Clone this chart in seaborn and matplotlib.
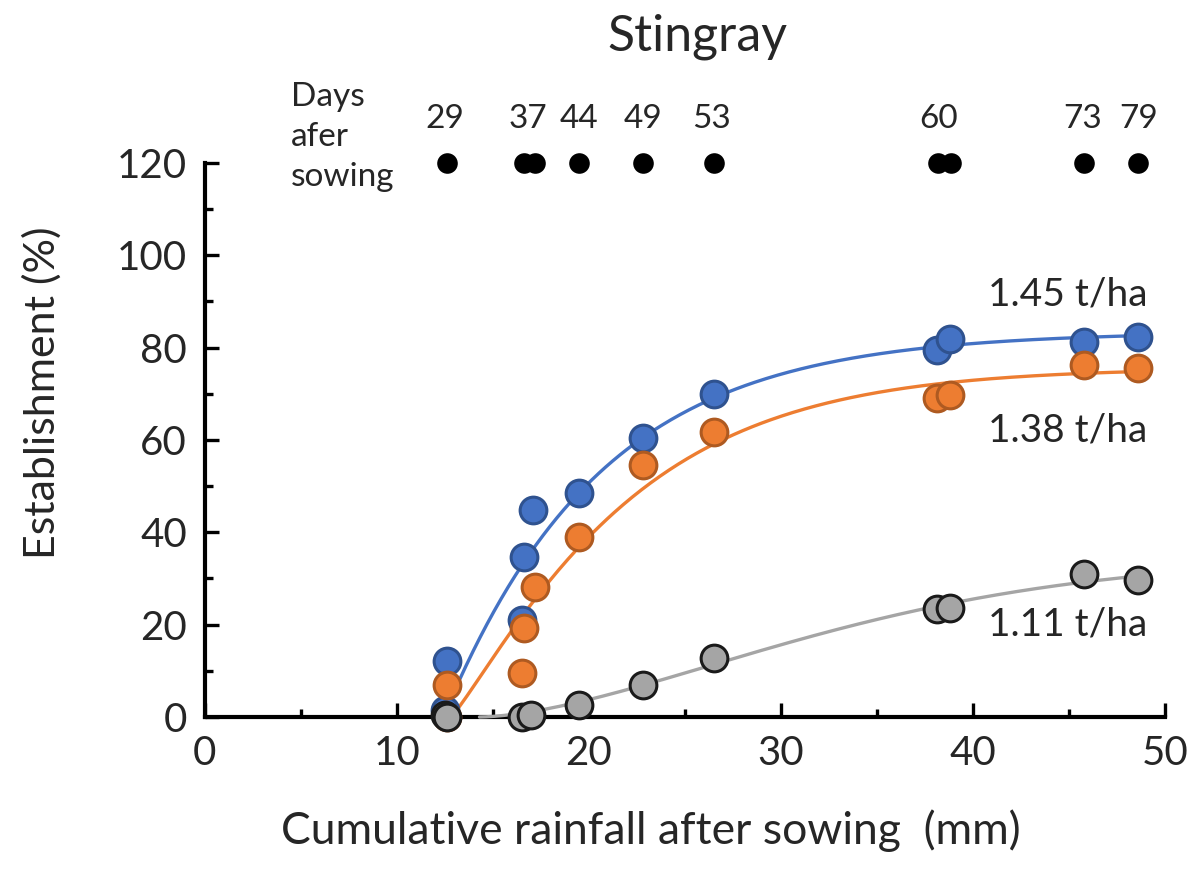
import numpy as np
import pandas as pd
import matplotlib
matplotlib.use("Agg")
import matplotlib.pyplot as plt
import seaborn as sns

# ---------------- data ----------------
blue_x = [12.5, 12.6, 16.5, 16.6, 17.1, 19.5, 22.8, 26.5, 38.1, 38.8, 45.8, 48.6]
blue_y = [1.5, 12.2, 21.0, 34.6, 44.8, 48.5, 60.4, 70.0, 79.5, 81.9, 81.3, 82.4]

orange_x = [12.6, 12.6, 16.5, 16.6, 17.2, 19.5, 22.8, 26.5, 38.1, 38.8, 45.8, 48.6]
orange_y = [0.0, 6.9, 9.5, 19.3, 28.2, 39.0, 54.6, 61.7, 69.1, 69.7, 76.2, 75.6]

gray_x = [12.5, 12.6, 16.5, 17.0, 19.5, 22.8, 26.5, 38.1, 38.8, 45.8, 48.6]
gray_y = [0.5, 0.0, 0.0, 0.5, 2.5, 6.9, 12.8, 23.4, 23.6, 31.0, 29.7]

# fitted-curve settings: onset and allowed shape range
curve_start = [12.4, 12.8, 14.3]
shape_min = [0.6, 1.0, 0.6]
shape_max = [4.0, 1.15, 4.0]

series_names = ["1.45 t/ha", "1.38 t/ha", "1.11 t/ha"]

day_dot_x = [12.6, 16.6, 17.2, 19.5, 22.8, 26.5, 38.2, 38.85, 45.8, 48.6]
day_labels = ["29", "37", "44", "49", "53", "60", "73", "79"]
day_label_x = [12.5, 16.8, 19.5, 22.8, 26.4, 38.2, 45.7, 48.6]

x_ticks = [0, 10, 20, 30, 40, 50]
y_ticks = [0, 20, 40, 60, 80, 100, 120]

face_colors = ["#4472C4", "#ED7D31", "#A5A5A5"]
edge_colors = ["#2F528F", "#AE5A21", "#1a1a1a"]

# ---------------- curve fit (Weibull growth, fixed onset) ----------------
def fit_weibull(x, y, x0, cmin, cmax):
    x = np.asarray(x, float)
    y = np.asarray(y, float)
    d = np.clip(x - x0, 0, None)
    best = None
    c_grid = np.arange(cmin, cmax + 1e-9, 0.01)
    for b in np.arange(2.0, 60.0, 0.1):
        f = 1 - np.exp(-(d[None, :] / b) ** c_grid[:, None])
        A = (f @ y) / np.maximum((f * f).sum(axis=1), 1e-12)
        sse = ((A[:, None] * f - y[None, :]) ** 2).sum(axis=1)
        i = np.argmin(sse)
        if best is None or sse[i] < best[0]:
            best = (sse[i], b, c_grid[i], A[i])
    return best[1:]

sns.set_style("ticks")
plt.rcParams["font.family"] = ["Lato", "DejaVu Sans"]

fig = plt.figure(figsize=(11.98, 8.76), dpi=100)
ax = fig.add_axes([0.171, 0.1815, 0.8015, 0.6325])

all_x = [blue_x, orange_x, gray_x]
all_y = [blue_y, orange_y, gray_y]

for xs, ys, x0, cmin, cmax, fc in zip(all_x, all_y, curve_start, shape_min,
                                      shape_max, face_colors):
    b, c, A = fit_weibull(xs, ys, x0, cmin, cmax)
    xx = np.linspace(x0, max(xs), 300)
    yy = A * (1 - np.exp(-((xx - x0) / b) ** c))
    curve = pd.DataFrame({"x": xx, "y": yy})
    sns.lineplot(data=curve, x="x", y="y", ax=ax, color=fc, lw=2.4,
                 zorder=3, clip_on=False, legend=False)

for xs, ys, fc, ec in zip(all_x, all_y, face_colors, edge_colors):
    df = pd.DataFrame({"x": xs, "y": ys})
    sns.scatterplot(data=df, x="x", y="y", ax=ax, s=370, color=fc,
                    edgecolor=ec, linewidth=2.2, zorder=5, clip_on=False,
                    legend=False)

# days-after-sowing dots
dd = pd.DataFrame({"x": day_dot_x, "y": [120] * len(day_dot_x)})
sns.scatterplot(data=dd, x="x", y="y", ax=ax, s=220, color="black",
                edgecolor="black", linewidth=0, zorder=6, clip_on=False,
                legend=False)
for lx, lab in zip(day_label_x, day_labels):
    ax.text(lx, 127.6, lab, ha="center", va="baseline", fontsize=24,
            clip_on=False)
ax.text(4.5, 137.6, "Days\nafer\nsowing", ha="left", va="top", fontsize=24,
        linespacing=1.42, clip_on=False)

# series labels
ax.text(40.8, 91.5, series_names[0], ha="left", va="center", fontsize=28)
ax.text(40.8, 62.0, series_names[1], ha="left", va="center", fontsize=28)
ax.text(40.8, 20.0, series_names[2], ha="left", va="center", fontsize=28)

ax.set_xlim(0, 50)
ax.set_ylim(0, 120)
ax.set_xticks(x_ticks)
ax.set_yticks(y_ticks)
ax.set_xticks(np.arange(0, 51, 5), minor=True)
ax.set_yticks(np.arange(0, 121, 10), minor=True)
ax.tick_params(axis="both", which="major", direction="in", length=10,
               width=2.4, labelsize=29, color="black")
ax.tick_params(axis="both", which="minor", direction="in", length=6,
               width=2.4, color="black")
ax.tick_params(axis="x", which="major", pad=13)
ax.tick_params(axis="y", which="major", pad=13)

for side in ["top", "right"]:
    ax.spines[side].set_visible(False)
for side in ["left", "bottom"]:
    ax.spines[side].set_linewidth(3)
    ax.spines[side].set_color("black")
    ax.spines[side].set_zorder(2)

ax.set_xlabel("Cumulative rainfall after sowing  (mm)", fontsize=32, va="center")
ax.set_ylabel("Establishment (%)", fontsize=31, va="center")
ax.xaxis.set_label_coords(0.464, -0.206)
ax.yaxis.set_label_coords(-0.170, 0.585)

fig.text(0.582, 0.958, "Stingray", ha="center", va="center", fontsize=36)

fig.savefig("out.png", dpi=100)
